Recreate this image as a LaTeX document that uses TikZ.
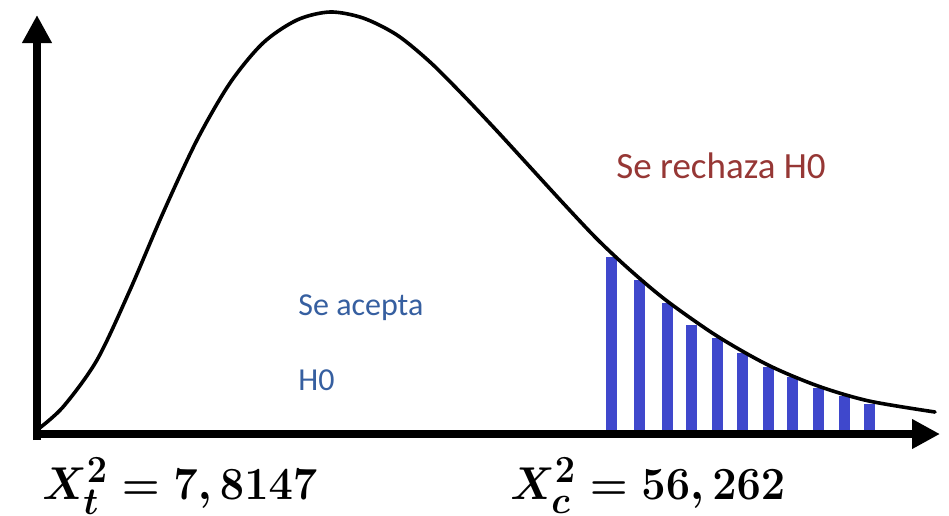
\documentclass[tikz,border=0pt]{standalone}
\usepackage{amsmath}
\usepackage{fontspec}
\setmainfont{Carlito}
\usepackage{tikz}
\usetikzlibrary{arrows.meta,positioning}

\definecolor{barblue}{RGB}{63,72,204}
\definecolor{rejectred}{RGB}{150,55,53}
\definecolor{acceptblue}{RGB}{54,95,160}

\newcommand{\statlabel}[1]{\scalebox{1.74}[1.85]{\Huge\boldmath$#1$}}

\tikzset{
  axis/.style={line width=8pt,-{Triangle[length=28pt,width=28pt]}},
  density/.style={line width=3.6pt,line cap=round},
  bar/.style={barblue,line width=11pt},
  rejecttext/.style={rejectred,font=\fontsize{37}{40}\selectfont,inner sep=0pt},
  accepttext/.style={acceptblue,font=\fontsize{32}{36}\selectfont,inner sep=0pt},
  stattext/.style={inner sep=0pt}
}

\begin{document}
\begin{tikzpicture}[x=1pt,y=-1pt,thick]
    \useasboundingbox (0,0) rectangle (949,515);
    % rejection region
    \foreach \x/\y in {611/257, 639/280, 667/303, 691/325, 717/338, 742/353, 768/367, 792/377, 818/388, 844/396, 869/404}
      \draw[bar] (\x,434)--(\x,\y);
    % density curve
    \draw[density] plot[smooth,tension=.5] coordinates {(37,430) (63,407) (97,360) (130,290) (163,213) (197,140) (230,83) (263,43) (297,20) (330,12) (363,18) (397,35) (430,62) (463,95) (497,131) (530,167) (563,203) (597,239) (630,270) (667,301) (717,336) (768,365) (818,386) (869,401) (935,412)};
    % axes
    \draw[axis] (37,440)--(37,15);
    \draw[axis] (33,434)--(940,434);
    % labels
    \node[rejecttext,anchor=base] (rechaza) at (721,178) {Se rechaza H0};
    \node[accepttext,anchor=base west] (acepta) at (298,315) {Se acepta};
    \node[accepttext,anchor=base west] (hcero) at (298,390) {H0};
    \node[stattext,anchor=base west] (tabla) at (42,499) {\statlabel{X_t^2=7,8147}};
    \node[stattext,anchor=base west] (calc) at (510,499) {\statlabel{X_c^2=56,262}};
  \end{tikzpicture}
\end{document}
